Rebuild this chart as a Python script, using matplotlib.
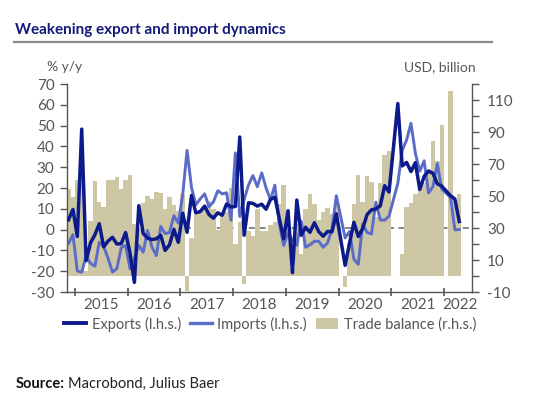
import numpy as np
import matplotlib
matplotlib.use("Agg")
import matplotlib.pyplot as plt
from matplotlib.lines import Line2D
from matplotlib.patches import Patch

plt.rcParams['font.family'] = ['Lato', 'DejaVu Sans']
plt.rcParams['axes.unicode_minus'] = False

# Monthly data, Nov 2014 .. Apr 2022 (None = not published / missing)
start_year, start_month = 2014, 11
exports = [4.7, 9.7,
           -3.3, 48.3, -15.0, -6.4, -2.5, 2.8, -8.3, -5.5, -3.7, -6.9, -6.8, -1.4,
           -11.2, -25.4, 11.5, -1.8, -4.1, -4.8, -4.4, -2.8, -10.0, -7.3, 0.1, -6.1,
           7.9, -1.3, 16.4, 8.0, 8.7, 11.3, 7.2, 5.5, 8.1, 6.9, 12.3, 10.9,
           11.1, 44.5, -2.7, 12.9, 12.6, 11.3, 12.2, 9.8, 14.5, 15.6, 5.4, -4.4,
           9.1, -20.7, 14.2, -2.7, 1.1, -1.3, 3.3, -1.0, -3.2, -0.9, -1.1, 7.6,
           None, -17.2, -6.6, 3.5, -3.3, 0.5, 7.2, 9.5, 9.9, 11.4, 21.1, 18.1,
           None, 60.6, 30.6, 32.3, 27.9, 32.2, 19.3, 25.6, 28.1, 27.1, 22.0, 20.9,
           None, 16.3, 14.7, 3.9]
imports = [-6.7, -2.4,
           -19.9, -20.5, -12.7, -16.2, -17.6, -6.1, -8.1, -13.8, -20.4, -18.8, -8.7, -7.6,
           -18.8, -13.8, -7.6, -10.9, -0.4, -8.4, -12.5, 1.5, -1.9, -1.4, 6.7, 3.1,
           16.7, 38.1, 20.3, 11.9, 14.8, 17.2, 11.0, 13.3, 18.7, 17.2, 17.7, 4.5,
           36.9, 6.3, 14.4, 21.5, 26.0, 20.6, 27.3, 20.0, 14.3, 21.4, 3.0, -7.6,
           -1.5, -5.2, -7.6, 4.0, -8.5, -7.3, -5.6, -5.6, -8.5, -6.4, 0.3, 16.3,
           None, -4.0, -0.9, -14.2, -16.7, 2.7, -1.4, -2.1, 13.2, 4.7, 4.5, 6.5,
           None, 22.2, 38.1, 43.1, 51.1, 36.7, 28.1, 33.1, 17.6, 20.6, 31.7, 19.5,
           None, 15.5, -0.1, 0.0]
trade_balance = [54.5, 49.6,
                 60.0, 60.6, 3.1, 34.1, 59.5, 46.5, 43.0, 60.2, 60.3, 61.6, 54.1, 60.1,
                 63.3, 32.6, 29.9, 45.6, 50.0, 48.1, 52.3, 52.1, 42.0, 49.1, 44.6, 40.8,
                 51.3, -9.2, 23.9, 38.0, 40.8, 42.8, 46.7, 42.0, 28.5, 38.2, 40.2, 54.7,
                 20.3, 33.7, -5.0, 28.4, 24.9, 41.6, 28.1, 27.9, 31.7, 34.0, 44.7, 57.1,
                 39.2, 4.1, 32.6, 13.8, 41.7, 51.0, 45.1, 34.8, 39.7, 42.8, 38.7, 46.8,
                 None, -7.1, 19.9, 45.3, 62.9, 46.4, 62.3, 58.9, 37.0, 58.4, 75.4, 78.2,
                 None, None, 13.8, 42.9, 45.5, 51.5, 56.6, 58.3, 66.8, 84.5, 71.7, 94.5,
                 None, 115.9, 47.4, 51.1]
year_labels = ['2015', '2016', '2017', '2018', '2019', '2020', '2021', '2022']

# month index: 0 = Jan 2015
n = len(exports)
m0 = (start_year - 2015) * 12 + (start_month - 1)
months = np.arange(n) + m0

C_EXP = '#0c1a8a'
C_IMP = '#5a6cc8'
C_BAL = '#cdc7a6'
C_AX = '#555555'
C_TXT = '#555555'

fig = plt.figure(figsize=(5.6, 3.95), dpi=100)
ax = fig.add_axes([67 / 560, 1 - 292 / 395, 405 / 560, 208 / 395])
ax2 = ax.twinx()
ax.set_zorder(ax2.get_zorder() + 1)
ax.patch.set_visible(False)

# bars (right axis)
bx = [m for m, v in zip(months, trade_balance) if v is not None]
bv = [v for v in trade_balance if v is not None]
ax2.bar(bx, bv, width=1.0, align='edge', color=C_BAL, linewidth=0, zorder=2)
ax2.axhline(30, color='#666666', lw=1.1, ls=(0, (4, 3)), zorder=1)
ax2.set_ylim(-10, 120)

# lines (left axis)
def series(vals):
    xs = [m + 0.5 for m, v in zip(months, vals) if v is not None]
    ys = [v for v in vals if v is not None]
    return xs, ys

xi, yi = series(imports)
ax.plot(xi, yi, color=C_IMP, lw=2.1, zorder=3, solid_joinstyle='round')
xe, ye = series(exports)
ax.plot(xe, ye, color=C_EXP, lw=2.5, zorder=4, solid_joinstyle='round')
ax.set_ylim(-30, 70)
ax.set_xlim(-1.85, 90.4)

for a in (ax, ax2):
    a.spines['top'].set_visible(False)
ax.spines['right'].set_visible(False)
ax2.spines['left'].set_visible(False)
ax2.spines['bottom'].set_visible(False)
for s in ('left', 'bottom'):
    ax.spines[s].set_color(C_AX)
    ax.spines[s].set_linewidth(1.0)
ax2.spines['right'].set_color(C_AX)
ax2.spines['right'].set_linewidth(1.0)

# x ticks
ax.set_xticks(range(0, 85, 12))
ax.set_xticklabels([])
ax.tick_params(axis='x', which='major', direction='inout', length=6, width=1.2, color=C_AX)
ax.set_xticks([6, 18, 30, 42, 54, 66, 78, 87.7], minor=True)
ax.set_xticklabels(year_labels, minor=True)
ax.tick_params(axis='x', which='minor', length=0, pad=4, labelsize=11, labelcolor=C_TXT)

# left y ticks
ax.set_yticks(range(-30, 71, 10))
ax.tick_params(axis='y', direction='out', length=5, width=1.0, color=C_AX,
               labelsize=11, labelcolor=C_TXT, pad=4)

# right y ticks
ax2.set_yticks(range(-10, 111, 20))
ax2.set_yticks(range(0, 121, 20), minor=True)
ax2.tick_params(axis='y', which='both', direction='out', length=5, width=1.0, color=C_AX,
                labelsize=11, labelcolor=C_TXT, pad=6)

# axis unit labels
fig.text(47 / 560, 1 - 67 / 395, '% y/y', fontsize=10, color=C_TXT, va='center', ha='left')
fig.text(476 / 560, 1 - 67 / 395, 'USD, billion', fontsize=10, color=C_TXT, va='center', ha='right')

# title and rule
fig.text(15 / 560, 1 - 30 / 395, 'Weakening export and import dynamics', fontsize=11,
         fontweight='bold', color='#141a78', va='center', ha='left')
fig.add_artist(Line2D([14 / 560, 492 / 560], [1 - 42 / 395, 1 - 42 / 395],
                      color='#8a8a8a', lw=1.6, transform=fig.transFigure))

# legend
handles = [Line2D([], [], color=C_EXP, lw=2.8),
           Line2D([], [], color=C_IMP, lw=2.4),
           Patch(facecolor=C_BAL, edgecolor='none')]
labels = ['Exports (l.h.s.)', 'Imports (l.h.s.)', 'Trade balance (r.h.s.)']
fig.legend(handles, labels, loc='center', bbox_to_anchor=(270 / 560, 1 - 324 / 395),
           ncol=3, frameon=False, fontsize=10.5, labelcolor=C_TXT, handlelength=1.5,
           handleheight=0.7, handletextpad=0.4, columnspacing=0.6, borderaxespad=0)

# source
t1 = fig.text(16 / 560, 1 - 384 / 395, 'Source:', fontsize=10.5, fontweight='bold',
              color='#111111', va='center', ha='left')
fig.canvas.draw()
bb = t1.get_window_extent(renderer=fig.canvas.get_renderer())
x2 = (bb.x1 + 3) / fig.bbox.width
fig.text(x2, 1 - 384 / 395, 'Macrobond, Julius Baer', fontsize=10.5, color='#222222',
         va='center', ha='left')

fig.savefig('out.png', dpi=100)
